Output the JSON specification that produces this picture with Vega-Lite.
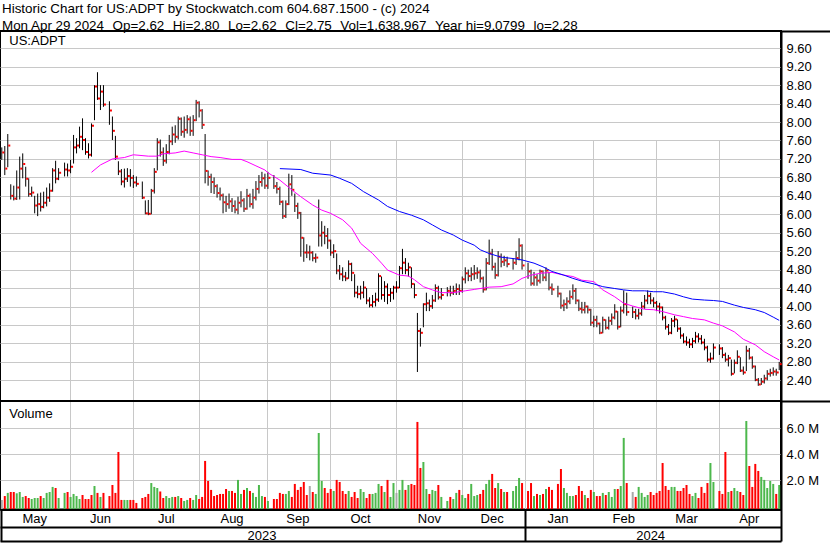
{
"$schema": "https://vega.github.io/schema/vega-lite/v6.json",
"width": 781, "height": 478.5,
"autosize": {"type": "none"},
"padding": {"left": 0, "top": 31, "right": 49, "bottom": 33.5},
"background": "white",
"config": {"view": {"stroke": "black", "strokeWidth": 2}, "font": "Liberation Sans", "axis": {"labelFont": "Liberation Sans"}, "text": {"font": "Liberation Sans"}},
"title": {"text": "Historic Chart for US:ADPT by Stockwatch.com 604.687.1500 - (c) 2024", "subtitle": "Mon Apr 29 2024 \u00a0\u200aOp=2.62 \u00a0\u200aHi=2.80 \u00a0\u200aLo=2.62 \u00a0\u200aCl=2.75 \u00a0\u200aVol=1,638,967 \u00a0\u200aYear hi=9.0799 \u00a0\u200alo=2.28", "anchor": "start", "frame": "group", "font": "Liberation Sans", "fontSize": 13.4, "fontWeight": "normal", "color": "black", "subtitleFont": "Liberation Sans", "subtitleFontSize": 13.4, "subtitleColor": "black", "subtitlePadding": 3.3, "offset": -2, "dx": 2},
"data": {"values": [
{"d":"2023-05-01","h":7.45,"l":7.18,"c":7.34,"v":490000,"s":"n"},
{"d":"2023-05-02","h":7.48,"l":6.85,"c":6.99,"v":790000,"s":"d"},
{"d":"2023-05-03","h":7.74,"l":7.02,"c":7.49,"v":1030000,"s":"u"},
{"d":"2023-05-04","h":6.65,"l":6.32,"c":6.40,"v":1100000,"s":"d"},
{"d":"2023-05-05","h":6.62,"l":6.30,"c":6.34,"v":1100000,"s":"d"},
{"d":"2023-05-08","h":6.95,"l":6.31,"c":6.58,"v":1000000,"s":"u"},
{"d":"2023-05-09","h":7.25,"l":6.32,"c":6.99,"v":1100000,"s":"u"},
{"d":"2023-05-10","h":7.32,"l":6.78,"c":7.09,"v":720000,"s":"u"},
{"d":"2023-05-11","h":7.03,"l":6.60,"c":6.77,"v":790000,"s":"d"},
{"d":"2023-05-12","h":6.78,"l":6.38,"c":6.44,"v":640000,"s":"d"},
{"d":"2023-05-15","h":6.60,"l":6.38,"c":6.47,"v":560000,"s":"u"},
{"d":"2023-05-16","h":6.40,"l":6.02,"c":6.19,"v":640000,"s":"u"},
{"d":"2023-05-17","h":6.45,"l":5.96,"c":6.22,"v":640000,"s":"u"},
{"d":"2023-05-18","h":6.47,"l":6.06,"c":6.16,"v":790000,"s":"d"},
{"d":"2023-05-19","h":6.49,"l":6.13,"c":6.25,"v":640000,"s":"u"},
{"d":"2023-05-22","h":6.58,"l":6.17,"c":6.36,"v":1030000,"s":"u"},
{"d":"2023-05-23","h":6.67,"l":6.27,"c":6.51,"v":1100000,"s":"u"},
{"d":"2023-05-24","h":7.00,"l":6.49,"c":6.95,"v":1490000,"s":"u"},
{"d":"2023-05-25","h":7.16,"l":6.67,"c":6.77,"v":1410000,"s":"d"},
{"d":"2023-05-26","h":7.00,"l":6.74,"c":6.90,"v":640000,"s":"u"},
{"d":"2023-05-29"},
{"d":"2023-05-30","h":7.12,"l":6.82,"c":6.97,"v":1030000,"s":"u"},
{"d":"2023-05-31","h":7.10,"l":6.82,"c":6.95,"v":1100000,"s":"d"},
{"d":"2023-06-01","h":7.18,"l":6.89,"c":7.03,"v":720000,"s":"u"},
{"d":"2023-06-02","h":7.72,"l":7.10,"c":7.45,"v":950000,"s":"u"},
{"d":"2023-06-05","h":7.65,"l":7.32,"c":7.49,"v":790000,"s":"u"},
{"d":"2023-06-06","h":7.90,"l":7.43,"c":7.68,"v":560000,"s":"u"},
{"d":"2023-06-07","h":8.08,"l":7.39,"c":7.61,"v":870000,"s":"d"},
{"d":"2023-06-08","h":7.65,"l":7.29,"c":7.35,"v":560000,"s":"d"},
{"d":"2023-06-09","h":7.54,"l":7.21,"c":7.29,"v":560000,"s":"d"},
{"d":"2023-06-12","h":7.97,"l":7.25,"c":7.92,"v":870000,"s":"d","m1":6.91},
{"d":"2023-06-13","h":8.80,"l":8.04,"c":8.77,"v":1560000,"s":"u"},
{"d":"2023-06-14","h":9.08,"l":8.48,"c":8.51,"v":1030000,"s":"d"},
{"d":"2023-06-15","h":8.80,"l":8.26,"c":8.66,"v":720000,"s":"u","m1":7.07},
{"d":"2023-06-16","h":8.80,"l":8.33,"c":8.38,"v":1030000,"s":"d"},
{"d":"2023-06-19"},
{"d":"2023-06-20","h":8.45,"l":7.94,"c":8.25,"v":790000,"s":"d"},
{"d":"2023-06-21","h":8.12,"l":7.61,"c":7.81,"v":1640000,"s":"d","m1":7.20},
{"d":"2023-06-22","h":7.70,"l":7.18,"c":7.25,"v":1030000,"s":"d"},
{"d":"2023-06-23","h":7.15,"l":6.85,"c":6.93,"v":4180000,"s":"d"},
{"d":"2023-06-26","h":6.98,"l":6.63,"c":6.71,"v":490000,"s":"d"},
{"d":"2023-06-27","h":6.99,"l":6.58,"c":6.77,"v":490000,"s":"u","m1":7.23},
{"d":"2023-06-28","h":7.00,"l":6.70,"c":6.83,"v":490000,"s":"u"},
{"d":"2023-06-29","h":6.98,"l":6.60,"c":6.79,"v":490000,"s":"d"},
{"d":"2023-06-30","h":6.85,"l":6.57,"c":6.69,"v":490000,"s":"d","m1":7.29},
{"d":"2023-07-03","h":6.82,"l":6.60,"c":6.66,"v":260000,"s":"d"},
{"d":"2023-07-04"},
{"d":"2023-07-05","h":6.71,"l":6.33,"c":6.36,"v":640000,"s":"d"},
{"d":"2023-07-06","h":6.30,"l":6.00,"c":6.02,"v":720000,"s":"d"},
{"d":"2023-07-07","h":6.31,"l":5.98,"c":6.01,"v":950000,"s":"d","m1":7.26},
{"d":"2023-07-10","h":6.55,"l":6.00,"c":6.51,"v":1790000,"s":"u"},
{"d":"2023-07-11","h":7.00,"l":6.45,"c":6.92,"v":1490000,"s":"u"},
{"d":"2023-07-12","h":7.65,"l":6.95,"c":7.56,"v":1410000,"s":"u","m1":7.26},
{"d":"2023-07-13","h":7.62,"l":7.25,"c":7.34,"v":1140000,"s":"d"},
{"d":"2023-07-14","h":7.45,"l":7.05,"c":7.16,"v":640000,"s":"d","m1":7.31},
{"d":"2023-07-17","h":7.52,"l":7.10,"c":7.35,"v":790000,"s":"u"},
{"d":"2023-07-18","h":7.72,"l":7.30,"c":7.58,"v":640000,"s":"u"},
{"d":"2023-07-19","h":7.90,"l":7.50,"c":7.73,"v":720000,"s":"u"},
{"d":"2023-07-20","h":7.93,"l":7.55,"c":7.68,"v":720000,"s":"d","m1":7.33},
{"d":"2023-07-21","h":8.12,"l":7.62,"c":8.07,"v":790000,"s":"u"},
{"d":"2023-07-24","h":8.10,"l":7.70,"c":7.79,"v":640000,"s":"d"},
{"d":"2023-07-25","h":8.12,"l":7.66,"c":7.83,"v":410000,"s":"u","m1":7.37},
{"d":"2023-07-26","h":8.15,"l":7.75,"c":8.06,"v":490000,"s":"u"},
{"d":"2023-07-27","h":8.12,"l":7.70,"c":7.81,"v":640000,"s":"d"},
{"d":"2023-07-28","h":8.15,"l":7.70,"c":8.04,"v":490000,"s":"u","m1":7.33},
{"d":"2023-07-31","h":8.48,"l":8.02,"c":8.42,"v":870000,"s":"u"},
{"d":"2023-08-01","h":8.45,"l":8.10,"c":8.25,"v":560000,"s":"d"},
{"d":"2023-08-02","h":8.28,"l":7.85,"c":7.94,"v":720000,"s":"d","m1":7.29},
{"d":"2023-08-03","h":7.74,"l":6.67,"c":6.94,"v":3490000,"s":"d"},
{"d":"2023-08-04","h":6.95,"l":6.62,"c":6.81,"v":1950000,"s":"d"},
{"d":"2023-08-07","h":6.88,"l":6.46,"c":6.70,"v":1260000,"s":"d","m1":7.25},
{"d":"2023-08-08","h":6.80,"l":6.44,"c":6.61,"v":790000,"s":"d"},
{"d":"2023-08-09","h":6.65,"l":6.36,"c":6.46,"v":870000,"s":"d"},
{"d":"2023-08-10","h":6.58,"l":6.30,"c":6.41,"v":950000,"s":"d","m1":7.23},
{"d":"2023-08-11","h":6.45,"l":6.02,"c":6.26,"v":950000,"s":"d"},
{"d":"2023-08-14","h":6.40,"l":6.05,"c":6.22,"v":1330000,"s":"d"},
{"d":"2023-08-15","h":6.45,"l":6.12,"c":6.28,"v":1180000,"s":"u"},
{"d":"2023-08-16","h":6.35,"l":6.05,"c":6.18,"v":1180000,"s":"d","m1":7.19},
{"d":"2023-08-17","h":6.30,"l":6.02,"c":6.10,"v":1030000,"s":"d"},
{"d":"2023-08-18","h":6.38,"l":6.00,"c":6.25,"v":2030000,"s":"u"},
{"d":"2023-08-21","h":6.50,"l":6.15,"c":6.30,"v":950000,"s":"u","m1":7.19},
{"d":"2023-08-22","h":6.35,"l":6.05,"c":6.12,"v":1260000,"s":"d"},
{"d":"2023-08-23","h":6.55,"l":6.10,"c":6.40,"v":1410000,"s":"u","m1":7.14},
{"d":"2023-08-24","h":6.45,"l":6.15,"c":6.22,"v":1180000,"s":"d"},
{"d":"2023-08-25","h":6.55,"l":6.12,"c":6.36,"v":1030000,"s":"u"},
{"d":"2023-08-28","h":6.72,"l":6.30,"c":6.55,"v":720000,"s":"u","m1":7.05},
{"d":"2023-08-29","h":6.85,"l":6.45,"c":6.70,"v":1640000,"s":"u"},
{"d":"2023-08-30","h":6.92,"l":6.60,"c":6.78,"v":790000,"s":"u"},
{"d":"2023-08-31","h":6.88,"l":6.55,"c":6.62,"v":720000,"s":"d","m1":6.96},
{"d":"2023-09-01","h":6.92,"l":6.55,"c":6.79,"v":410000,"s":"u","m1":6.90},
{"d":"2023-09-04"},
{"d":"2023-09-05","h":6.85,"l":6.55,"c":6.61,"v":560000,"s":"d"},
{"d":"2023-09-06","h":6.70,"l":6.45,"c":6.55,"v":560000,"s":"d"},
{"d":"2023-09-07","h":6.60,"l":6.20,"c":6.27,"v":1030000,"s":"d","m1":6.74,"m2":6.99},
{"d":"2023-09-08","h":6.30,"l":5.90,"c":5.96,"v":950000,"s":"d"},
{"d":"2023-09-11","h":6.30,"l":5.92,"c":6.22,"v":950000,"s":"u"},
{"d":"2023-09-12","h":6.88,"l":6.20,"c":6.65,"v":1180000,"s":"u"},
{"d":"2023-09-13","h":6.85,"l":6.40,"c":6.53,"v":720000,"s":"d","m1":6.53},
{"d":"2023-09-14","h":6.45,"l":6.05,"c":6.18,"v":1720000,"s":"d"},
{"d":"2023-09-15","h":6.25,"l":5.90,"c":6.03,"v":1260000,"s":"d"},
{"d":"2023-09-18","h":6.05,"l":5.08,"c":5.49,"v":1490000,"s":"d","m1":6.38,"m2":6.97},
{"d":"2023-09-19","h":5.50,"l":4.97,"c":5.17,"v":1870000,"s":"d"},
{"d":"2023-09-20","h":5.35,"l":5.05,"c":5.17,"v":870000,"s":"d"},
{"d":"2023-09-21","h":5.32,"l":5.00,"c":5.17,"v":1560000,"s":"n"},
{"d":"2023-09-22","h":5.20,"l":4.98,"c":5.05,"v":1100000,"s":"d","m1":6.20,"m2":6.89},
{"d":"2023-09-25","h":5.15,"l":4.95,"c":5.06,"v":950000,"s":"u"},
{"d":"2023-09-26","h":6.32,"l":5.30,"c":5.54,"v":5640000,"s":"u"},
{"d":"2023-09-27","h":5.85,"l":5.30,"c":5.60,"v":1950000,"s":"u","m1":6.09},
{"d":"2023-09-28","h":5.75,"l":5.35,"c":5.53,"v":1410000,"s":"d"},
{"d":"2023-09-29","h":5.70,"l":5.25,"c":5.43,"v":1030000,"s":"d"},
{"d":"2023-10-02","h":5.45,"l":5.10,"c":5.17,"v":1330000,"s":"d","m1":6.02,"m2":6.85},
{"d":"2023-10-03","h":5.35,"l":5.05,"c":5.20,"v":1180000,"s":"u"},
{"d":"2023-10-04","h":5.15,"l":4.70,"c":4.78,"v":2030000,"s":"d"},
{"d":"2023-10-05","h":4.90,"l":4.58,"c":4.70,"v":1870000,"s":"d","m2":6.78},
{"d":"2023-10-06","h":4.85,"l":4.55,"c":4.65,"v":1180000,"s":"d","m1":5.88},
{"d":"2023-10-09","h":4.75,"l":4.55,"c":4.61,"v":950000,"s":"d"},
{"d":"2023-10-10","h":5.00,"l":4.60,"c":4.92,"v":1180000,"s":"u"},
{"d":"2023-10-11","h":4.95,"l":4.55,"c":4.73,"v":720000,"s":"d","m1":5.70,"m2":6.67},
{"d":"2023-10-12","h":4.70,"l":4.20,"c":4.30,"v":1100000,"s":"d"},
{"d":"2023-10-13","h":4.45,"l":4.18,"c":4.27,"v":640000,"s":"d"},
{"d":"2023-10-16","h":4.45,"l":4.15,"c":4.30,"v":1330000,"s":"u","m1":5.37},
{"d":"2023-10-17","h":4.55,"l":4.18,"c":4.41,"v":1100000,"s":"u","m2":6.49},
{"d":"2023-10-18","h":4.40,"l":4.05,"c":4.13,"v":640000,"s":"d"},
{"d":"2023-10-19","h":4.20,"l":3.98,"c":4.03,"v":950000,"s":"d"},
{"d":"2023-10-20","h":4.25,"l":3.98,"c":4.10,"v":950000,"s":"u","m1":5.15},
{"d":"2023-10-23","h":4.30,"l":4.00,"c":4.15,"v":1030000,"s":"u"},
{"d":"2023-10-24","h":4.72,"l":4.10,"c":4.66,"v":1720000,"s":"u","m2":6.31},
{"d":"2023-10-25","h":4.65,"l":4.15,"c":4.25,"v":1560000,"s":"d","m1":4.94},
{"d":"2023-10-26","h":4.55,"l":4.10,"c":4.43,"v":1100000,"s":"u"},
{"d":"2023-10-27","h":4.50,"l":4.05,"c":4.25,"v":2030000,"s":"d","m1":4.79,"m2":6.17},
{"d":"2023-10-30","h":4.40,"l":4.10,"c":4.30,"v":720000,"s":"u"},
{"d":"2023-10-31","h":4.45,"l":4.15,"c":4.41,"v":1790000,"s":"u"},
{"d":"2023-11-01","h":4.55,"l":4.30,"c":4.41,"v":1030000,"s":"n"},
{"d":"2023-11-02","h":4.88,"l":4.40,"c":4.83,"v":1260000,"s":"u","m1":4.68,"m2":6.06},
{"d":"2023-11-03","h":5.25,"l":4.70,"c":4.95,"v":2030000,"s":"u"},
{"d":"2023-11-06","h":5.05,"l":4.70,"c":4.79,"v":1260000,"s":"d"},
{"d":"2023-11-07","h":4.95,"l":4.65,"c":4.85,"v":1640000,"s":"u","m1":4.66},
{"d":"2023-11-08","h":4.85,"l":4.40,"c":4.49,"v":1720000,"s":"d","m2":5.98},
{"d":"2023-11-09","h":4.50,"l":4.18,"c":4.25,"v":1640000,"s":"d","m1":4.58},
{"d":"2023-11-10","h":3.86,"l":2.58,"c":3.47,"v":6490000,"s":"d"},
{"d":"2023-11-13","h":3.53,"l":3.13,"c":3.43,"v":2950000,"s":"d"},
{"d":"2023-11-14","h":4.07,"l":3.55,"c":4.05,"v":3410000,"s":"u","m1":4.43,"m2":5.88},
{"d":"2023-11-15","h":4.30,"l":3.90,"c":4.07,"v":1330000,"s":"u"},
{"d":"2023-11-16","h":4.15,"l":3.90,"c":4.01,"v":950000,"s":"d"},
{"d":"2023-11-17","h":4.25,"l":3.95,"c":4.13,"v":1260000,"s":"u","m1":4.36,"m2":5.77},
{"d":"2023-11-20","h":4.48,"l":4.10,"c":4.40,"v":1180000,"s":"u"},
{"d":"2023-11-21","h":4.45,"l":4.15,"c":4.20,"v":1640000,"s":"d"},
{"d":"2023-11-22","h":4.40,"l":4.15,"c":4.25,"v":720000,"s":"u","m1":4.30,"m2":5.66},
{"d":"2023-11-23"},
{"d":"2023-11-24","h":4.42,"l":4.22,"c":4.34,"v":410000,"s":"u"},
{"d":"2023-11-27","h":4.45,"l":4.22,"c":4.30,"v":720000,"s":"d"},
{"d":"2023-11-28","h":4.45,"l":4.25,"c":4.34,"v":560000,"s":"u","m1":4.30,"m2":5.55},
{"d":"2023-11-29","h":4.50,"l":4.25,"c":4.38,"v":1030000,"s":"u"},
{"d":"2023-11-30","h":4.48,"l":4.25,"c":4.34,"v":1260000,"s":"d"},
{"d":"2023-12-01","h":4.65,"l":4.30,"c":4.59,"v":870000,"s":"u","m2":5.44},
{"d":"2023-12-04","h":4.85,"l":4.50,"c":4.72,"v":640000,"s":"u","m1":4.34},
{"d":"2023-12-05","h":4.80,"l":4.55,"c":4.66,"v":950000,"s":"d"},
{"d":"2023-12-06","h":4.85,"l":4.55,"c":4.70,"v":1720000,"s":"u"},
{"d":"2023-12-07","h":4.90,"l":4.58,"c":4.72,"v":790000,"s":"u","m1":4.37,"m2":5.33},
{"d":"2023-12-08","h":4.85,"l":4.60,"c":4.74,"v":870000,"s":"u"},
{"d":"2023-12-11","h":4.80,"l":4.52,"c":4.61,"v":950000,"s":"d","m2":5.23},
{"d":"2023-12-12","h":4.65,"l":4.30,"c":4.37,"v":1260000,"s":"d"},
{"d":"2023-12-13","h":5.05,"l":4.35,"c":4.94,"v":1720000,"s":"u"},
{"d":"2023-12-14","h":5.45,"l":4.90,"c":5.15,"v":2030000,"s":"u","m1":4.42,"m2":5.15},
{"d":"2023-12-15","h":5.25,"l":4.78,"c":4.86,"v":2490000,"s":"d"},
{"d":"2023-12-18","h":4.95,"l":4.60,"c":4.68,"v":1410000,"s":"d"},
{"d":"2023-12-19","h":5.20,"l":4.65,"c":5.08,"v":1790000,"s":"u"},
{"d":"2023-12-20","h":5.15,"l":4.85,"c":4.97,"v":1330000,"s":"d","m1":4.43,"m2":5.07},
{"d":"2023-12-21","h":5.10,"l":4.88,"c":5.00,"v":1100000,"s":"u"},
{"d":"2023-12-22","h":5.08,"l":4.85,"c":4.92,"v":1100000,"s":"d"},
{"d":"2023-12-25"},
{"d":"2023-12-26","h":5.05,"l":4.80,"c":4.95,"v":1180000,"s":"u","m1":4.49,"m2":5.04},
{"d":"2023-12-27","h":5.20,"l":4.90,"c":5.05,"v":1560000,"s":"u"},
{"d":"2023-12-28","h":5.48,"l":5.00,"c":5.32,"v":2180000,"s":"u"},
{"d":"2023-12-29","h":5.35,"l":4.80,"c":4.89,"v":1790000,"s":"d","m1":4.61,"m2":5.01},
{"d":"2024-01-01"},
{"d":"2024-01-02","h":4.95,"l":4.60,"c":4.76,"v":1180000,"s":"d"},
{"d":"2024-01-03","h":4.80,"l":4.45,"c":4.50,"v":1790000,"s":"d","m1":4.68},
{"d":"2024-01-04","h":4.75,"l":4.45,"c":4.63,"v":790000,"s":"u","m2":4.94},
{"d":"2024-01-05","h":4.70,"l":4.45,"c":4.56,"v":950000,"s":"d"},
{"d":"2024-01-08","h":4.80,"l":4.50,"c":4.76,"v":870000,"s":"u","m1":4.72},
{"d":"2024-01-09","h":4.78,"l":4.55,"c":4.63,"v":950000,"s":"d","m2":4.86},
{"d":"2024-01-10","h":4.85,"l":4.55,"c":4.78,"v":1330000,"s":"u"},
{"d":"2024-01-11","h":4.75,"l":4.35,"c":4.41,"v":1490000,"s":"d"},
{"d":"2024-01-12","h":4.50,"l":4.25,"c":4.37,"v":1260000,"s":"d","m1":4.74,"m2":4.76},
{"d":"2024-01-15"},
{"d":"2024-01-16","h":4.45,"l":4.20,"c":4.28,"v":1720000,"s":"d"},
{"d":"2024-01-17","h":4.30,"l":3.95,"c":4.02,"v":2870000,"s":"d"},
{"d":"2024-01-18","h":4.15,"l":3.90,"c":4.05,"v":1410000,"s":"u","m1":4.68,"m2":4.68},
{"d":"2024-01-19","h":4.20,"l":3.95,"c":4.11,"v":1030000,"s":"u"},
{"d":"2024-01-22","h":4.35,"l":4.05,"c":4.21,"v":790000,"s":"u"},
{"d":"2024-01-23","h":4.48,"l":4.15,"c":4.34,"v":790000,"s":"u","m1":4.65,"m2":4.61},
{"d":"2024-01-24","h":4.40,"l":4.05,"c":4.13,"v":870000,"s":"d"},
{"d":"2024-01-25","h":4.15,"l":3.90,"c":3.95,"v":1560000,"s":"d"},
{"d":"2024-01-26","h":4.10,"l":3.85,"c":3.93,"v":1180000,"s":"d","m1":4.57,"m2":4.55},
{"d":"2024-01-29","h":4.10,"l":3.85,"c":4.00,"v":870000,"s":"u"},
{"d":"2024-01-30","h":4.02,"l":3.85,"c":3.93,"v":640000,"s":"d"},
{"d":"2024-01-31","h":3.95,"l":3.58,"c":3.65,"v":1260000,"s":"d"},
{"d":"2024-02-01","h":3.80,"l":3.55,"c":3.71,"v":1100000,"s":"u","m1":4.54,"m2":4.49},
{"d":"2024-02-02","h":3.80,"l":3.55,"c":3.63,"v":790000,"s":"d"},
{"d":"2024-02-05","h":3.65,"l":3.40,"c":3.43,"v":790000,"s":"d"},
{"d":"2024-02-06","h":3.78,"l":3.42,"c":3.71,"v":1030000,"s":"u","m1":4.36,"m2":4.43},
{"d":"2024-02-07","h":3.72,"l":3.50,"c":3.54,"v":870000,"s":"d"},
{"d":"2024-02-08","h":3.78,"l":3.50,"c":3.69,"v":1100000,"s":"u"},
{"d":"2024-02-09","h":3.85,"l":3.60,"c":3.76,"v":720000,"s":"u"},
{"d":"2024-02-12","h":4.05,"l":3.72,"c":3.89,"v":1330000,"s":"u","m1":4.21,"m2":4.39},
{"d":"2024-02-13","h":3.90,"l":3.50,"c":3.56,"v":1330000,"s":"d"},
{"d":"2024-02-14","h":4.00,"l":3.55,"c":3.91,"v":1560000,"s":"u"},
{"d":"2024-02-15","h":4.35,"l":3.85,"c":4.05,"v":5260000,"s":"u","m1":4.07,"m2":4.36},
{"d":"2024-02-16","h":4.30,"l":3.80,"c":3.88,"v":1790000,"s":"d"},
{"d":"2024-02-19"},
{"d":"2024-02-20","h":4.00,"l":3.75,"c":3.88,"v":1100000,"s":"n","m1":4.01,"m2":4.34},
{"d":"2024-02-21","h":3.95,"l":3.72,"c":3.80,"v":720000,"s":"d"},
{"d":"2024-02-22","h":3.95,"l":3.72,"c":3.85,"v":1490000,"s":"u"},
{"d":"2024-02-23","h":4.10,"l":3.80,"c":4.00,"v":1030000,"s":"u"},
{"d":"2024-02-26","h":4.25,"l":3.95,"c":4.13,"v":720000,"s":"u","m1":3.94,"m2":4.34},
{"d":"2024-02-27","h":4.35,"l":4.05,"c":4.23,"v":870000,"s":"u"},
{"d":"2024-02-28","h":4.30,"l":4.05,"c":4.13,"v":1100000,"s":"d"},
{"d":"2024-02-29","h":4.20,"l":3.98,"c":4.08,"v":870000,"s":"d","m1":3.93,"m2":4.32},
{"d":"2024-03-01","h":4.12,"l":3.90,"c":4.00,"v":1030000,"s":"d"},
{"d":"2024-03-04","h":4.08,"l":3.85,"c":3.98,"v":1180000,"s":"d"},
{"d":"2024-03-05","h":4.00,"l":3.70,"c":3.76,"v":3330000,"s":"d","m1":3.89,"m2":4.32},
{"d":"2024-03-06","h":3.80,"l":3.50,"c":3.56,"v":1560000,"s":"d"},
{"d":"2024-03-07","h":3.62,"l":3.38,"c":3.43,"v":1260000,"s":"d"},
{"d":"2024-03-08","h":3.75,"l":3.40,"c":3.69,"v":1490000,"s":"u"},
{"d":"2024-03-11","h":3.80,"l":3.55,"c":3.72,"v":1490000,"s":"u","m1":3.82,"m2":4.27},
{"d":"2024-03-12","h":3.72,"l":3.45,"c":3.52,"v":1180000,"s":"d"},
{"d":"2024-03-13","h":3.55,"l":3.30,"c":3.37,"v":1180000,"s":"d"},
{"d":"2024-03-14","h":3.42,"l":3.20,"c":3.24,"v":1410000,"s":"d","m1":3.78,"m2":4.21},
{"d":"2024-03-15","h":3.35,"l":3.15,"c":3.22,"v":1640000,"s":"d"},
{"d":"2024-03-18","h":3.30,"l":3.10,"c":3.18,"v":950000,"s":"d"},
{"d":"2024-03-19","h":3.32,"l":3.10,"c":3.25,"v":790000,"s":"u","m1":3.74,"m2":4.16},
{"d":"2024-03-20","h":3.45,"l":3.20,"c":3.35,"v":1030000,"s":"u"},
{"d":"2024-03-21","h":3.42,"l":3.22,"c":3.30,"v":640000,"s":"d"},
{"d":"2024-03-22","h":3.38,"l":3.18,"c":3.22,"v":1490000,"s":"d"},
{"d":"2024-03-25","h":3.30,"l":3.05,"c":3.11,"v":1030000,"s":"d","m1":3.71,"m2":4.14},
{"d":"2024-03-26","h":3.15,"l":2.80,"c":2.85,"v":1790000,"s":"d"},
{"d":"2024-03-27","h":3.00,"l":2.78,"c":2.87,"v":3330000,"s":"u"},
{"d":"2024-03-28","h":3.20,"l":2.85,"c":3.11,"v":1870000,"s":"u","m1":3.64,"m2":4.13},
{"d":"2024-03-29"},
{"d":"2024-04-01","h":3.18,"l":2.95,"c":3.09,"v":1180000,"s":"d"},
{"d":"2024-04-02","h":3.12,"l":2.88,"c":2.95,"v":950000,"s":"d","m1":3.58,"m2":4.11},
{"d":"2024-04-03","h":3.00,"l":2.80,"c":2.85,"v":4180000,"s":"d"},
{"d":"2024-04-04","h":2.95,"l":2.70,"c":2.88,"v":1100000,"s":"u"},
{"d":"2024-04-05","h":2.85,"l":2.50,"c":2.54,"v":1180000,"s":"d"},
{"d":"2024-04-08","h":2.85,"l":2.55,"c":2.78,"v":1410000,"s":"u","m1":3.45,"m2":4.03},
{"d":"2024-04-09","h":3.05,"l":2.75,"c":2.91,"v":1180000,"s":"u"},
{"d":"2024-04-10","h":2.90,"l":2.58,"c":2.61,"v":1100000,"s":"d"},
{"d":"2024-04-11","h":2.70,"l":2.52,"c":2.57,"v":870000,"s":"d","m1":3.29,"m2":3.98},
{"d":"2024-04-12","h":3.15,"l":2.60,"c":3.04,"v":6560000,"s":"u"},
{"d":"2024-04-15","h":3.10,"l":2.85,"c":2.89,"v":3100000,"s":"d"},
{"d":"2024-04-16","h":2.92,"l":2.65,"c":2.70,"v":1490000,"s":"d"},
{"d":"2024-04-17","h":2.72,"l":2.38,"c":2.41,"v":3260000,"s":"d","m1":3.17,"m2":3.93},
{"d":"2024-04-18","h":2.45,"l":2.28,"c":2.31,"v":2720000,"s":"d"},
{"d":"2024-04-19","h":2.45,"l":2.30,"c":2.37,"v":2260000,"s":"u"},
{"d":"2024-04-22","h":2.52,"l":2.33,"c":2.44,"v":2030000,"s":"u","m1":3.02,"m2":3.87},
{"d":"2024-04-23","h":2.62,"l":2.40,"c":2.54,"v":1410000,"s":"u"},
{"d":"2024-04-24","h":2.65,"l":2.48,"c":2.56,"v":1950000,"s":"u"},
{"d":"2024-04-25","h":2.68,"l":2.50,"c":2.59,"v":1720000,"s":"u","m1":2.91,"m2":3.77},
{"d":"2024-04-26","h":2.65,"l":2.50,"c":2.57,"v":950000,"s":"d"},
{"d":"2024-04-29","h":2.80,"l":2.62,"c":2.75,"v":1638967,"s":"u","m1":2.84,"m2":3.70}
]},
"layer": [
{"mark": {"type": "rule", "color": "black", "strokeWidth": 1},
 "encoding": {
  "x": {"field": "d", "type": "ordinal",
   "scale": {"type": "band", "paddingInner": 0, "paddingOuter": 0.1, "domain": ["2023-05-01","2023-05-02","2023-05-03","2023-05-04","2023-05-05","2023-05-08","2023-05-09","2023-05-10","2023-05-11","2023-05-12","2023-05-15","2023-05-16","2023-05-17","2023-05-18","2023-05-19","2023-05-22","2023-05-23","2023-05-24","2023-05-25","2023-05-26","2023-05-29","2023-05-30","2023-05-31","2023-06-01","2023-06-02","2023-06-05","2023-06-06","2023-06-07","2023-06-08","2023-06-09","2023-06-12","2023-06-13","2023-06-14","2023-06-15","2023-06-16","2023-06-19","2023-06-20","2023-06-21","2023-06-22","2023-06-23","2023-06-26","2023-06-27","2023-06-28","2023-06-29","2023-06-30","2023-07-03","2023-07-04","2023-07-05","2023-07-06","2023-07-07","2023-07-10","2023-07-11","2023-07-12","2023-07-13","2023-07-14","2023-07-17","2023-07-18","2023-07-19","2023-07-20","2023-07-21","2023-07-24","2023-07-25","2023-07-26","2023-07-27","2023-07-28","2023-07-31","2023-08-01","2023-08-02","2023-08-03","2023-08-04","2023-08-07","2023-08-08","2023-08-09","2023-08-10","2023-08-11","2023-08-14","2023-08-15","2023-08-16","2023-08-17","2023-08-18","2023-08-21","2023-08-22","2023-08-23","2023-08-24","2023-08-25","2023-08-28","2023-08-29","2023-08-30","2023-08-31","2023-09-01","2023-09-04","2023-09-05","2023-09-06","2023-09-07","2023-09-08","2023-09-11","2023-09-12","2023-09-13","2023-09-14","2023-09-15","2023-09-18","2023-09-19","2023-09-20","2023-09-21","2023-09-22","2023-09-25","2023-09-26","2023-09-27","2023-09-28","2023-09-29","2023-10-02","2023-10-03","2023-10-04","2023-10-05","2023-10-06","2023-10-09","2023-10-10","2023-10-11","2023-10-12","2023-10-13","2023-10-16","2023-10-17","2023-10-18","2023-10-19","2023-10-20","2023-10-23","2023-10-24","2023-10-25","2023-10-26","2023-10-27","2023-10-30","2023-10-31","2023-11-01","2023-11-02","2023-11-03","2023-11-06","2023-11-07","2023-11-08","2023-11-09","2023-11-10","2023-11-13","2023-11-14","2023-11-15","2023-11-16","2023-11-17","2023-11-20","2023-11-21","2023-11-22","2023-11-23","2023-11-24","2023-11-27","2023-11-28","2023-11-29","2023-11-30","2023-12-01","2023-12-04","2023-12-05","2023-12-06","2023-12-07","2023-12-08","2023-12-11","2023-12-12","2023-12-13","2023-12-14","2023-12-15","2023-12-18","2023-12-19","2023-12-20","2023-12-21","2023-12-22","2023-12-25","2023-12-26","2023-12-27","2023-12-28","2023-12-29","2024-01-01","2024-01-02","2024-01-03","2024-01-04","2024-01-05","2024-01-08","2024-01-09","2024-01-10","2024-01-11","2024-01-12","2024-01-15","2024-01-16","2024-01-17","2024-01-18","2024-01-19","2024-01-22","2024-01-23","2024-01-24","2024-01-25","2024-01-26","2024-01-29","2024-01-30","2024-01-31","2024-02-01","2024-02-02","2024-02-05","2024-02-06","2024-02-07","2024-02-08","2024-02-09","2024-02-12","2024-02-13","2024-02-14","2024-02-15","2024-02-16","2024-02-19","2024-02-20","2024-02-21","2024-02-22","2024-02-23","2024-02-26","2024-02-27","2024-02-28","2024-02-29","2024-03-01","2024-03-04","2024-03-05","2024-03-06","2024-03-07","2024-03-08","2024-03-11","2024-03-12","2024-03-13","2024-03-14","2024-03-15","2024-03-18","2024-03-19","2024-03-20","2024-03-21","2024-03-22","2024-03-25","2024-03-26","2024-03-27","2024-03-28","2024-03-29","2024-04-01","2024-04-02","2024-04-03","2024-04-04","2024-04-05","2024-04-08","2024-04-09","2024-04-10","2024-04-11","2024-04-12","2024-04-15","2024-04-16","2024-04-17","2024-04-18","2024-04-19","2024-04-22","2024-04-23","2024-04-24","2024-04-25","2024-04-26","2024-04-29"]},
   "axis": {"orient": "bottom", "values": ["2023-06-01","2023-06-30","2023-08-01","2023-09-01","2023-10-02","2023-11-01","2023-12-01","2024-01-01","2024-02-01","2024-03-01","2024-04-01"], "grid": true, "gridColor": "#c8c8c8", "gridWidth": 1, "gridOpacity": 1, "ticks": false, "labels": false, "domain": false, "title": null, "bandPosition": 0.5}},
  "y": {"field": "h", "type": "quantitative", "scale": {"domain": [1.951, 9.974], "range": [370, 0], "zero": false, "nice": false},
   "axis": {"orient": "right", "values": [2.4,2.8,3.2,3.6,4.0,4.4,4.8,5.2,5.6,6.0,6.4,6.8,7.2,7.6,8.0,8.4,8.8,9.2,9.6], "format": ".2f", "grid": true, "gridColor": "#c8c8c8", "gridWidth": 1, "gridOpacity": 1, "ticks": false, "domain": true, "domainColor": "black", "domainWidth": 2, "labelFontSize": 13, "labelColor": "black", "labelPadding": 5, "labelBaseline": "middle", "labelFlush": false, "title": null}},
  "y2": {"field": "l"}}},
{"mark": {"type": "square", "color": "#ff0000", "size": 4, "opacity": 1, "filled": true, "strokeWidth": 0, "xOffset": 1.5},
 "encoding": {
  "x": {"field": "d", "type": "ordinal", "axis": {"orient": "bottom", "values": ["2023-05-16","2023-06-15","2023-07-17","2023-08-16","2023-09-15","2023-10-16","2023-11-16","2023-12-15","2024-01-16","2024-02-15","2024-03-15","2024-04-15"], "labelExpr": "timeFormat(toDate(datum.value + 'T12:00:00'), '%b')", "grid": false, "ticks": false, "domain": true, "domainColor": "black", "domainWidth": 2, "labelFontSize": 13, "labelColor": "black", "labelPadding": 3, "labelAngle": 0, "labelOverlap": false, "bandPosition": 0.5, "title": null}},
  "y": {"field": "c", "type": "quantitative", "scale": {"domain": [1.951, 9.974], "range": [370, 0], "zero": false, "nice": false},
   "axis": {"orient": "right", "values": [1.9512, 9.9738], "ticks": true, "tickSize": 49, "tickColor": "black", "tickWidth": 2, "labels": false, "domain": false, "grid": false, "title": null}}}},
{"transform": [{"filter": "isValid(datum.m1)"}],
 "mark": {"type": "line", "color": "#ff00ff", "strokeWidth": 1},
 "encoding": {
  "x": {"field": "d", "type": "ordinal", "axis": {"orient": "bottom", "offset": 17.5, "values": ["2023-08-30","2024-02-28"], "labelExpr": "substring(datum.value, 0, 4)", "grid": false, "ticks": false, "domain": true, "domainColor": "black", "domainWidth": 2, "labelFontSize": 13, "labelColor": "black", "labelPadding": 2, "labelAngle": 0, "labelOverlap": false, "bandPosition": 0.5, "title": null}},
  "y": {"field": "m1", "type": "quantitative", "scale": {"domain": [1.951, 9.974], "range": [370, 0], "zero": false, "nice": false}, "axis": null}}},
{"transform": [{"filter": "isValid(datum.m2)"}],
 "mark": {"type": "line", "color": "#0000ff", "strokeWidth": 1},
 "encoding": {
  "x": {"field": "d", "type": "ordinal", "axis": {"orient": "bottom", "values": ["2023-05-01","2024-01-01"], "ticks": true, "tickSize": 31.5, "tickColor": "black", "tickWidth": 2, "labels": false, "domain": false, "grid": false, "bandPosition": 0.5, "title": null}},
  "y": {"field": "m2", "type": "quantitative", "scale": {"domain": [1.951, 9.974], "range": [370, 0], "zero": false, "nice": false}, "axis": null}}},
{"data": {"values": [{}]},
 "mark": {"type": "rule", "color": "black", "strokeWidth": 2},
 "encoding": {
  "y": {"datum": 1.951, "type": "quantitative", "scale": {"domain": [1.951, 9.974], "range": [370, 0], "zero": false, "nice": false}, "axis": null}}},
{"mark": {"type": "bar", "width": 2},
 "encoding": {
  "x": {"field": "d", "type": "ordinal", "axis": {"orient": "bottom", "offset": 31.5, "domain": true, "domainColor": "black", "domainWidth": 2, "ticks": false, "labels": false, "grid": false, "title": null}},
  "y": {"field": "v", "type": "quantitative", "scale": {"domain": [-2669000, 8100000], "range": [510, 370], "zero": false, "nice": false},
   "axis": {"orient": "right", "values": [2000000, 4000000, 6000000], "labelExpr": "format(datum.value / 1000000, '.1f') + ' M'", "grid": true, "gridColor": "#c8c8c8", "gridWidth": 1, "gridOpacity": 1, "ticks": false, "domain": true, "domainColor": "black", "domainWidth": 2, "labelFontSize": 13, "labelColor": "black", "labelPadding": 5, "labelFlush": false, "title": null}},
  "y2": {"datum": -208000},
  "color": {"field": "s", "type": "nominal", "scale": {"domain": ["u", "d", "n"], "range": ["#4cb84c", "#ff0000", "#a8a8a8"]}, "legend": null}}},
{"data": {"values": [{}]},
 "mark": {"type": "text", "text": "US:ADPT", "align": "left", "baseline": "alphabetic", "fontSize": 13, "color": "black", "dx": 7.5},
 "encoding": {
  "x": {"datum": "2023-05-01", "type": "ordinal", "axis": null},
  "y": {"datum": 9.67, "type": "quantitative", "scale": {"domain": [1.951, 9.974], "range": [370, 0], "zero": false, "nice": false}, "axis": null}}},
{"data": {"values": [{}]},
 "mark": {"type": "text", "text": "Volume", "align": "left", "baseline": "alphabetic", "fontSize": 13, "color": "black", "dx": 7.5},
 "encoding": {
  "x": {"datum": "2023-05-01", "type": "ordinal", "axis": null},
  "y": {"datum": 6770000, "type": "quantitative", "scale": {"domain": [-2669000, 8100000], "range": [510, 370], "zero": false, "nice": false}, "axis": null}}}
],
"resolve": {"scale": {"y": "independent"}, "axis": {"x": "independent", "y": "independent"}}
}
